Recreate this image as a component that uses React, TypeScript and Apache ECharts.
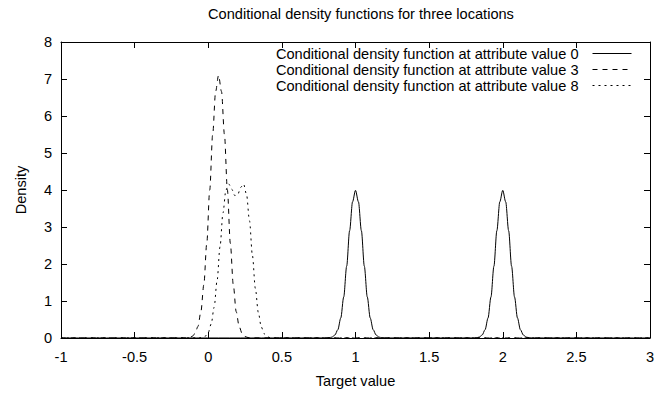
import React, { useEffect, useRef } from "react";
import * as echarts from "echarts";

const title = "Conditional density functions for three locations";
const xName = "Target value";
const yName = "Density";
const seriesNames = [
  "Conditional density function at attribute value 0",
  "Conditional density function at attribute value 3",
  "Conditional density function at attribute value 8",
];

// attribute value 0 : two narrow peaks at 1 and 2
const solidX = [
  -1,
  0.8, 0.82, 0.84, 0.86, 0.88, 0.9, 0.92, 0.94, 0.96, 0.98, 1.0, 1.02, 1.04, 1.06, 1.08, 1.1, 1.12, 1.14, 1.16, 1.18, 1.2,
  1.8, 1.82, 1.84, 1.86, 1.88, 1.9, 1.92, 1.94, 1.96, 1.98, 2.0, 2.02, 2.04, 2.06, 2.08, 2.1, 2.12, 2.14, 2.16, 2.18, 2.2,
  3,
];
const solidY = [
  0,
  0.001, 0.006, 0.024, 0.079, 0.224, 0.54, 1.11, 1.94, 2.9, 3.68, 3.99, 3.68, 2.9, 1.94, 1.11, 0.54, 0.224, 0.079, 0.024, 0.006, 0.001,
  0.001, 0.006, 0.024, 0.079, 0.224, 0.54, 1.11, 1.94, 2.9, 3.68, 3.99, 3.68, 2.9, 1.94, 1.11, 0.54, 0.224, 0.079, 0.024, 0.006, 0.001,
  0,
];

// attribute value 3 : single tall peak near 0.07
const dashedX = [
  -1,
  -0.15, -0.13, -0.11, -0.09, -0.07, -0.05, -0.03, -0.01, 0.01, 0.03, 0.05, 0.07, 0.09, 0.11, 0.13, 0.15, 0.17, 0.19, 0.21, 0.23, 0.25, 0.27, 0.29,
  3,
];
const dashedY = [
  0,
  0.003, 0.012, 0.04, 0.12, 0.31, 0.71, 1.44, 2.56, 4.0, 5.5, 6.66, 7.1, 6.66, 5.5, 4.0, 2.56, 1.44, 0.71, 0.31, 0.12, 0.04, 0.012, 0.003,
  0,
];

// attribute value 8 : double peak around 0.13 and 0.24
const dottedX = [
  -1,
  -0.06, -0.04, -0.02, 0.0, 0.02, 0.04, 0.06, 0.08, 0.1, 0.12, 0.14, 0.16, 0.18, 0.2, 0.22, 0.24, 0.26, 0.28, 0.3, 0.32, 0.34, 0.36, 0.38, 0.4, 0.42, 0.44,
  3,
];
const dottedY = [
  0,
  0.003, 0.014, 0.049, 0.148, 0.38, 0.83, 1.55, 2.47, 3.38, 4.0, 4.16, 4.02, 3.85, 3.87, 4.07, 4.16, 3.88, 3.17, 2.23, 1.34, 0.69, 0.3, 0.113, 0.036, 0.01, 0.002,
  0,
];

const xMin = -1;
const xMax = 3;
const xStep = 0.5;
const yMin = 0;
const yMax = 8;
const yStep = 1;

const FONT = "'Liberation Sans', Arial, Helvetica, sans-serif";
const FS = 14.6;

function pairs(xs: number[], ys: number[]) {
  return xs.map((x, i) => [x, ys[i]]);
}

export default function App() {
  const ref = useRef<HTMLDivElement>(null);
  useEffect(() => {
    document.body.style.margin = "0";
    const chart = echarts.init(ref.current!, undefined, { renderer: "svg" });
    const axisLine = { show: true, onZero: false, lineStyle: { color: "#000", width: 1 } };
    const tick = { show: true, inside: true, length: 6, lineStyle: { color: "#000", width: 1 } };
    const lineBase = { type: "line", showSymbol: false, symbol: "none", smooth: 0.3, smoothMonotone: "x", silent: true };
    chart.setOption({
      animation: false,
      textStyle: { fontFamily: FONT },
      title: {
        text: title,
        left: 356,
        textAlign: "center",
        top: 1,
        textStyle: { fontFamily: FONT, fontSize: FS, fontWeight: "normal", color: "#000" },
      },
      legend: {
        orient: "vertical",
        right: 22,
        top: 41,
        align: "right",
        itemWidth: 39,
        itemHeight: 14,
        itemGap: 1,
        itemStyle: { opacity: 0 },
        lineStyle: { width: 1, color: "#000", type: "inherit" },
        textStyle: { fontFamily: FONT, fontSize: FS, color: "#000", padding: [0, 9, 0, 0] },
        data: seriesNames,
      },
      grid: { left: 61, right: 9, top: 42, bottom: 53 },
      xAxis: [
        {
          type: "value",
          min: xMin,
          max: xMax,
          interval: xStep,
          name: xName,
          nameLocation: "middle",
          nameGap: 35,
          nameTextStyle: { fontFamily: FONT, fontSize: FS, color: "#000" },
          axisLine,
          axisTick: tick,
          axisLabel: { fontFamily: FONT, fontSize: FS, color: "#000", margin: 11 },
          splitLine: { show: false },
        },
        {
          type: "value",
          position: "top",
          min: xMin,
          max: xMax,
          interval: xStep,
          axisLine,
          axisTick: tick,
          axisLabel: { show: false },
          splitLine: { show: false },
        },
      ],
      yAxis: [
        {
          type: "value",
          min: yMin,
          max: yMax,
          interval: yStep,
          name: yName,
          nameLocation: "middle",
          nameGap: 33,
          nameTextStyle: { fontFamily: FONT, fontSize: FS, color: "#000" },
          axisLine,
          axisTick: tick,
          axisLabel: { fontFamily: FONT, fontSize: FS, color: "#000", margin: 9 },
          splitLine: { show: false },
        },
        {
          type: "value",
          position: "right",
          min: yMin,
          max: yMax,
          interval: yStep,
          axisLine,
          axisTick: tick,
          axisLabel: { show: false },
          splitLine: { show: false },
        },
      ],
      series: [
        {
          ...lineBase,
          name: seriesNames[0],
          data: pairs(solidX, solidY),
          itemStyle: { color: "#000" },
          lineStyle: { color: "#000", width: 1, type: "solid" },
        },
        {
          ...lineBase,
          name: seriesNames[1],
          data: pairs(dashedX, dashedY),
          itemStyle: { color: "#000" },
          lineStyle: { color: "#000", width: 1, type: [5, 5] },
        },
        {
          ...lineBase,
          name: seriesNames[2],
          data: pairs(dottedX, dottedY),
          itemStyle: { color: "#000" },
          lineStyle: { color: "#000", width: 1, type: [2, 4] },
        },
      ],
    });
    return () => chart.dispose();
  }, []);
  return <div ref={ref} style={{ width: 659, height: 393 }} />;
}
